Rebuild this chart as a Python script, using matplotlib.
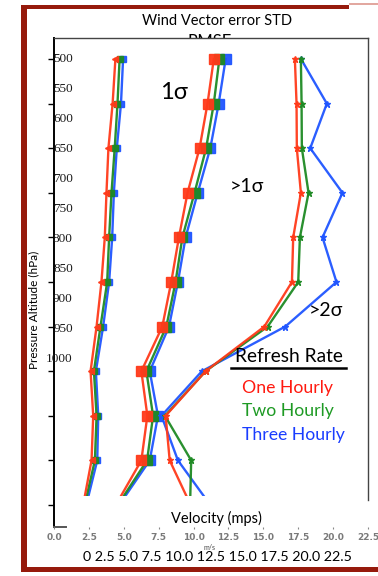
import numpy as np
import matplotlib.pyplot as plt
from matplotlib.patches import Rectangle

plt.rcParams['font.family'] = ['Lato', 'DejaVu Sans']

W, H = 378, 576

# pressure level index (0 = top) and the labels on the axis
levels = list(range(11))
pressure_labels = [500, 550, 600, 650, 700, 750, 800, 850, 900, 950, 1000]
vel_ticks = [0, 2.5, 5.0, 7.5, 10.0, 12.5, 15.0, 17.5, 20.0, 22.5]
bottom_labels = ['0', '2.5', '5.0', '7.5', '10.0', '12.5', '15.0', '17.5', '20.0', '22.5']

# 1 sigma
s1_one = [4.4, 4.2, 3.9, 3.76, 3.64, 3.4, 3.05, 2.62, 2.81, 2.69, 2.09]
s1_two = [4.7, 4.55, 4.35, 4.12, 3.95, 3.81, 3.33, 2.86, 3.05, 2.93, 2.2]
s1_three = [4.95, 4.8, 4.5, 4.29, 4.17, 3.95, 3.52, 3.0, 3.17, 3.1, 2.31]
# >1 sigma
m_one = [11.45, 11.0, 10.43, 9.57, 8.95, 8.4, 7.76, 6.26, 6.69, 6.26, 4.43]
m_two = [11.85, 11.45, 10.9, 10.07, 9.2, 8.71, 8.05, 6.62, 7.1, 6.67, 4.57]
m_three = [12.3, 11.8, 11.2, 10.3, 9.43, 8.88, 8.24, 6.86, 7.45, 6.86, 4.67]
# >2 sigma
r_one = [17.26, 17.38, 17.4, 17.69, 17.14, 17.05, 15.07, 10.86, 8.0, 8.29, 9.79]
r_two = [17.69, 17.74, 17.76, 18.24, 17.62, 17.5, 15.31, 10.86, 7.95, 9.83, 9.75]
r_three = [17.7, 19.55, 18.36, 20.67, 19.24, 20.24, 16.57, 10.6, 7.7, 8.88, 11.2]

RED, GREEN, BLUE = '#ff3a1a', '#1e8a24', '#1f55ff'


def fx(px):
    return px / W


def fy(py):
    return 1 - py / H


fig = plt.figure(figsize=(W / 100, H / 100), dpi=100)
ax = fig.add_axes([fx(54), fy(527), (368 - 54) / W, (527 - 38) / H])
ax.set_axisbelow(False)

for vals, c, m, ms in [(s1_three, BLUE, 's', 5), (s1_two, GREEN, 's', 5), (s1_one, RED, '<', 5),
                       (m_three, BLUE, 's', 6.5), (m_two, GREEN, 's', 6.5), (m_one, RED, 's', 6.5),
                       (r_three, BLUE, '*', 5), (r_two, GREEN, '*', 5), (r_one, RED, '*', 5)]:
    ax.plot(vals, levels, color=c, lw=1.7, marker=m, ms=ms, mec=c, mfc=c, alpha=0.95)

ax.set_xlim(0, 22.5)
ax.set_ylim((527 - 59) / 44.6, (38 - 59) / 44.6)

# white strip where the lines stop
ax.add_patch(Rectangle((0.008, 0.003), 1.0, (527 - 497) / 489, transform=ax.transAxes,
                       facecolor='white', edgecolor='none', zorder=2.3, clip_on=False))

ax.set_yticks(levels)
ax.set_yticklabels([])
ax.tick_params(axis='y', length=4, width=1, color='black')
ax.set_xticks(vel_ticks)
ax.set_xticklabels(['%.1f' % v for v in vel_ticks], fontsize=6.5, fontweight='bold',
                   color='#7a7a7a', family='DejaVu Sans')
ax.tick_params(axis='x', length=1.5, width=0.8, color='#888888', pad=2.5)

ax.spines['left'].set_linewidth(1.4)
ax.spines['bottom'].set_linewidth(1.4)
ax.spines['bottom'].set_color('#555555')
ax.spines['bottom'].set_bounds(0, 0.85)
ax.spines['right'].set_color('#444444')
ax.spines['right'].set_linewidth(1.0)
ax.spines['right'].set_bounds((500 - 59) / 44.6, (38 - 59) / 44.6)
ax.spines['top'].set_color('#444444')
ax.spines['top'].set_linewidth(1.0)

ax.set_ylabel('Pressure Altitude (hPa)', fontsize=8.5)
ax.yaxis.set_label_coords((39 - 54) / 314, (527 - 310) / 489)
ax.set_xlabel('Velocity (mps)', fontsize=10.5)
ax.xaxis.set_label_coords((216 - 54) / 314, (527 - 511) / 489)

# pressure labels on their own scale
ax2 = ax.twinx()
ax2.set_ylim(500 + (527 - 57) * 50 / 30, 500 + (38 - 57) * 50 / 30)
ax2.yaxis.tick_left()
ax2.set_yticks(pressure_labels)
ax2.set_yticklabels([str(p) for p in pressure_labels], family='Liberation Serif',
                    fontsize=9.5, color='#1a1a1a')
ax2.tick_params(axis='y', length=0, pad=-13.5)
for s in ax2.spines.values():
    s.set_visible(False)

# annotations
ax.text(8.57, 0.74, '1σ', fontsize=17, ha='center', va='center')
ax.text(13.8, 2.85, '>1σ', fontsize=14, ha='center', va='center')
ax.text(19.5, 5.65, '>2σ', fontsize=14, ha='center', va='center')
ax.text(16.82, 6.68, 'Refresh Rate', fontsize=13.8, ha='center', va='center')
ax.plot([(232 - 54) / 14, (347 - 54) / 14], [(368 - 59) / 44.6] * 2, color='black', lw=1.8)
ax.text(13.5, 7.38, 'One Hourly', fontsize=12.7, color='#ff1a10', va='center')
ax.text(13.5, 7.89, 'Two Hourly', fontsize=12.7, color='#1e9a24', va='center')
ax.text(13.5, 8.43, 'Three Hourly', fontsize=12.7, color='#1a3dff', va='center')

fig.text(fx(217), fy(21), 'Wind Vector error STD', fontsize=10.5, ha='center', va='center')
fig.text(fx(210), fy(34), 'RMSE', fontsize=12, ha='center', va='top', zorder=-1)
fig.text(fx(217), fy(557), ' '.join(bottom_labels), fontsize=10.3, ha='center', va='center')
fig.text(fx(210), fy(548), 'm/s', fontsize=5, ha='center', va='center', color='#444444')

# dark red frame
frame = '#961a0c'
fig.add_artist(Rectangle((fx(21), fy(572)), 6 / W, 567 / H, transform=fig.transFigure,
                         facecolor=frame, edgecolor='none'))
fig.add_artist(Rectangle((fx(21), fy(9)), (349 - 21) / W, 4 / H, transform=fig.transFigure,
                         facecolor=frame, edgecolor='none'))
fig.add_artist(Rectangle((fx(349), fy(5)), (W - 349) / W, 2 / H, transform=fig.transFigure,
                         facecolor='#e2a8a0', edgecolor='none'))
fig.add_artist(Rectangle((fx(21), fy(572)), (W - 21) / W, 5 / H, transform=fig.transFigure,
                         facecolor=frame, edgecolor='none'))

fig.savefig('out.png', dpi=100)
